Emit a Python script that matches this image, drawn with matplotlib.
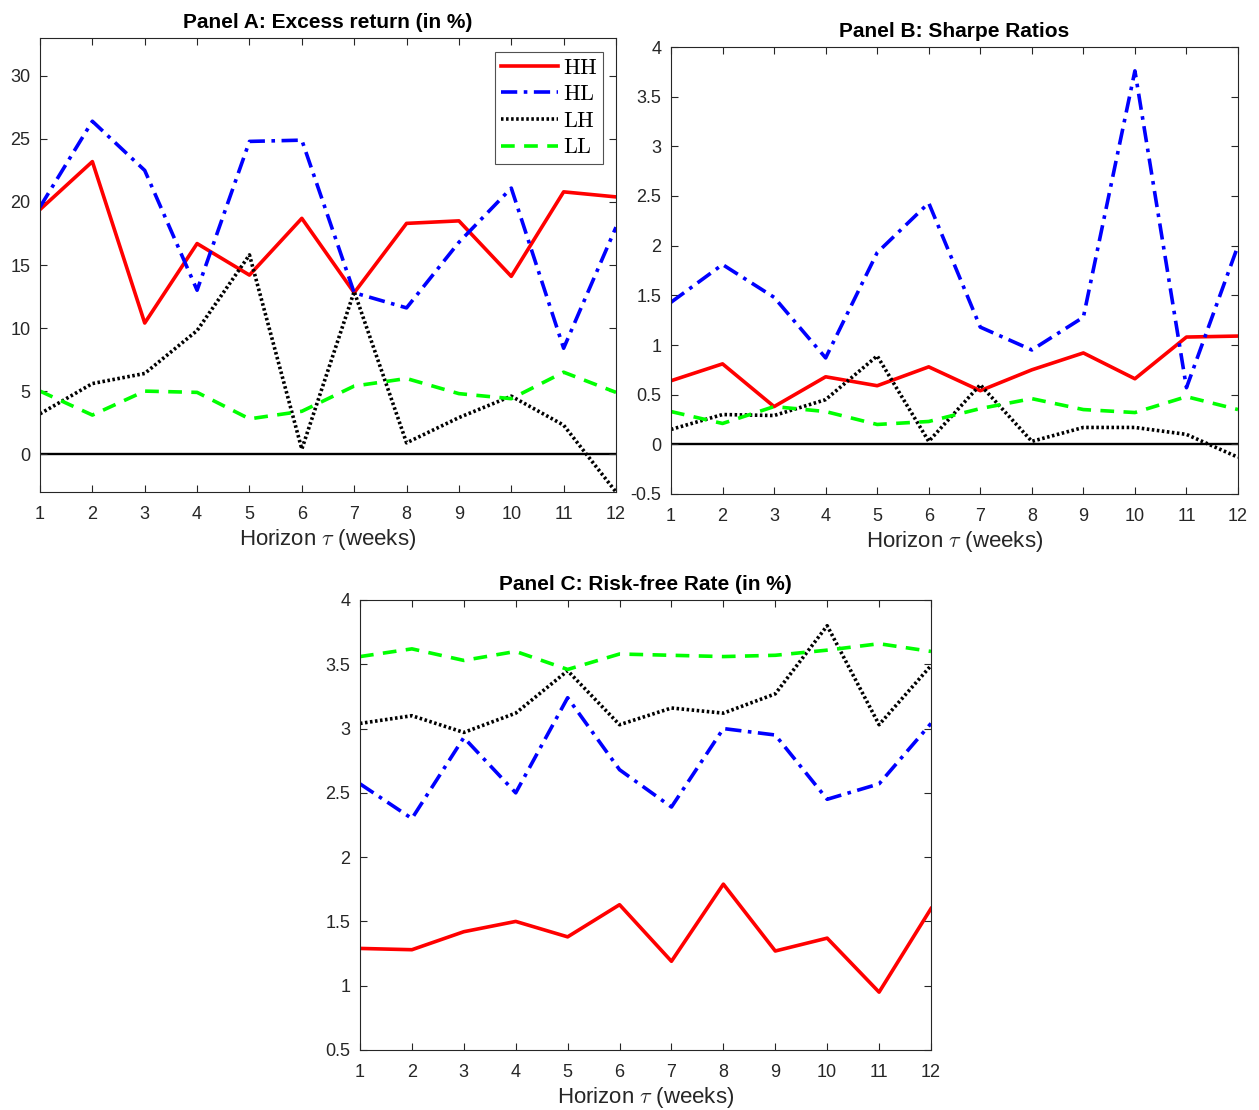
import numpy as np
import matplotlib.pyplot as plt

plt.rcParams['font.family'] = ['Liberation Sans', 'DejaVu Sans']
plt.rcParams['mathtext.fontset'] = 'cm'

horizon = np.arange(1, 13)
series = ['HH', 'HL', 'LH', 'LL']

# Panel A: excess return (in %)
ret_hh = [19.4, 23.2, 10.4, 16.7, 14.2, 18.7, 12.8, 18.3, 18.5, 14.1, 20.8, 20.4]
ret_hl = [19.6, 26.4, 22.5, 13.0, 24.8, 24.9, 12.8, 11.6, 16.8, 21.1, 8.4, 18.0]
ret_lh = [3.2, 5.6, 6.4, 9.8, 15.8, 0.4, 12.9, 0.9, 2.9, 4.6, 2.3, -3.0]
ret_ll = [5.0, 3.1, 5.0, 4.9, 2.8, 3.4, 5.4, 6.0, 4.8, 4.4, 6.5, 4.9]

# Panel B: Sharpe ratios
sr_hh = [0.64, 0.81, 0.38, 0.68, 0.59, 0.78, 0.54, 0.75, 0.92, 0.66, 1.08, 1.09]
sr_hl = [1.43, 1.81, 1.48, 0.87, 1.93, 2.43, 1.18, 0.95, 1.28, 3.76, 0.57, 2.00]
sr_lh = [0.15, 0.30, 0.29, 0.45, 0.89, 0.03, 0.60, 0.03, 0.17, 0.17, 0.10, -0.13]
sr_ll = [0.33, 0.21, 0.38, 0.33, 0.20, 0.23, 0.36, 0.46, 0.35, 0.32, 0.48, 0.35]

# Panel C: risk-free rate (in %)
rf_hh = [1.29, 1.28, 1.42, 1.50, 1.38, 1.63, 1.19, 1.79, 1.27, 1.37, 0.95, 1.60]
rf_hl = [2.57, 2.30, 2.93, 2.50, 3.24, 2.68, 2.39, 3.00, 2.95, 2.45, 2.57, 3.04]
rf_lh = [3.04, 3.10, 2.97, 3.12, 3.45, 3.03, 3.16, 3.12, 3.27, 3.80, 3.03, 3.49]
rf_ll = [3.56, 3.62, 3.53, 3.60, 3.46, 3.58, 3.57, 3.56, 3.57, 3.61, 3.66, 3.60]

styles = {
    'HH': dict(color='#ff0000', linestyle='-'),
    'HL': dict(color='#0000ff', linestyle=(0, (4.5, 1.8, 1.0, 1.8))),
    'LH': dict(color='#000000', linestyle=(0, (0.7, 0.7))),
    'LL': dict(color='#00ff00', linestyle=(0, (3.8, 2.6))),
}

W, H = 1259, 1110
fig = plt.figure(figsize=(W / 100, H / 100), dpi=100)


def add_ax(x0, y0, x1, y1):
    return fig.add_axes([x0 / W, 1 - y1 / H, (x1 - x0) / W, (y1 - y0) / H])


def panel(ax, data, title, ylim, yticks, zero=False):
    if zero:
        ax.axhline(0, color='k', lw=1.7, zorder=1)
    lines = []
    for name, vals in zip(series, data):
        ln, = ax.plot(horizon, vals, lw=2.6, label=r'$\mathrm{%s}$' % name,
                      **styles[name])
        lines.append(ln)
    ax.set_xlim(1, 12)
    ax.set_ylim(*ylim)
    ax.set_xticks(horizon)
    ax.set_yticks(yticks)
    ax.set_yticklabels([('%g' % t) for t in yticks])
    ax.tick_params(direction='in', top=True, right=True, labelsize=13,
                   colors='#262626', length=5, width=0.8)
    ax.tick_params(axis='x', pad=10)
    ax.tick_params(axis='y', pad=7)
    for s in ax.spines.values():
        s.set_color('#262626')
        s.set_linewidth(0.8)
    ax.set_title(title, fontsize=15, fontweight='bold', pad=7)
    ax.set_xlabel(r'Horizon $\tau$ (weeks)', fontsize=16, color='#262626',
                  labelpad=3)
    return lines


axA = add_ax(40, 38, 616, 492)
lines = panel(axA, [ret_hh, ret_hl, ret_lh, ret_ll],
              'Panel A: Excess return (in %)', (-3, 33), np.arange(0, 31, 5),
              zero=True)
leg = axA.legend(handles=lines, loc='upper right', bbox_to_anchor=(0.9775, 0.969),
                 fontsize=16, frameon=True, fancybox=False, handlelength=2.6,
                 handletextpad=0.2, labelspacing=0.25, borderpad=0.25,
                 borderaxespad=0)
leg.get_frame().set_edgecolor('#262626')
leg.get_frame().set_linewidth(0.8)

axB = add_ax(671, 47, 1238, 494)
panel(axB, [sr_hh, sr_hl, sr_lh, sr_ll], 'Panel B: Sharpe Ratios',
      (-0.5, 4), np.arange(-0.5, 4.01, 0.5), zero=True)

axC = add_ax(360, 600, 931, 1050)
panel(axC, [rf_hh, rf_hl, rf_lh, rf_ll], 'Panel C: Risk-free Rate (in %)',
      (0.5, 4), np.arange(0.5, 4.01, 0.5))

fig.savefig('out.png', dpi=100)
